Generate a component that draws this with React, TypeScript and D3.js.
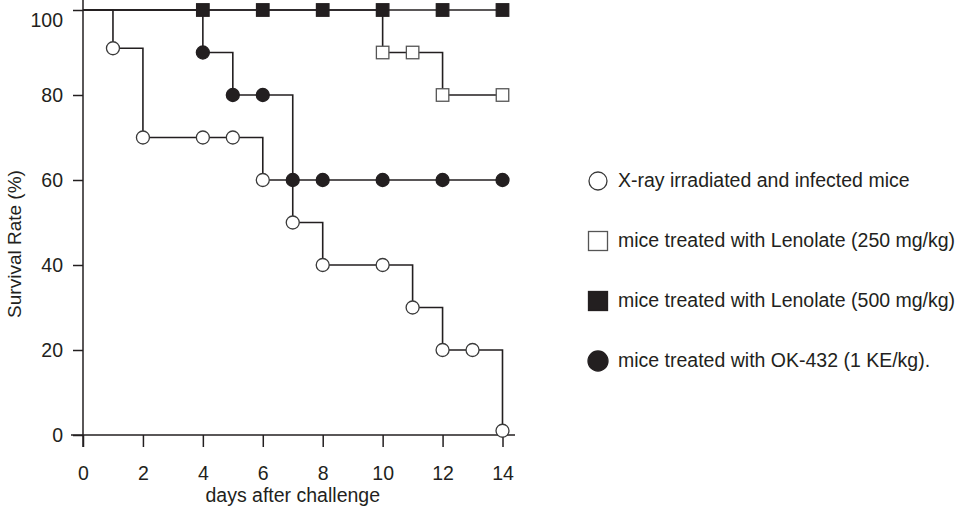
import React, { useEffect, useRef } from "react";
import * as d3 from "d3";

// survival data (day, % surviving)
const xrayDays = [0, 1, 2, 4, 5, 6, 7, 8, 10, 11, 12, 13, 14];
const xrayRates = [100, 91, 70, 70, 70, 60, 50, 40, 40, 30, 20, 20, 1];

const len250Days = [0, 10, 11, 12, 14];
const len250Rates = [100, 90, 90, 80, 80];

const len500Days = [0, 4, 6, 8, 10, 12, 14];
const len500Rates = [100, 100, 100, 100, 100, 100, 100];

const okDays = [0, 4, 5, 6, 7, 8, 10, 12, 14];
const okRates = [100, 90, 80, 80, 60, 60, 60, 60, 60];

const xTicks = [0, 2, 4, 6, 8, 10, 12, 14];
const yTicks = [0, 20, 40, 60, 80, 100];

const legendLabels = [
  "X-ray irradiated and infected mice",
  "mice treated with Lenolate (250 mg/kg)",
  "mice treated with Lenolate (500 mg/kg)",
  "mice treated with OK-432 (1 KE/kg).",
];

const INK = "#231f20";
const FONT = "'Liberation Sans', Arial, sans-serif";

const series = [
  { days: xrayDays, rates: xrayRates, shape: "circle", filled: false },
  { days: okDays, rates: okRates, shape: "circle", filled: true },
  { days: len250Days, rates: len250Rates, shape: "square", filled: false },
  { days: len500Days, rates: len500Rates, shape: "square", filled: true },
];

// legend order: open circle, open square, filled square, filled circle
const legendMarks = [
  { shape: "circle", filled: false },
  { shape: "square", filled: false },
  { shape: "square", filled: true },
  { shape: "circle", filled: true },
];

export default function App() {
  const ref = useRef<SVGSVGElement>(null);

  useEffect(() => {
    const svg = d3.select(ref.current);
    svg.selectAll("*").remove();

    const x = d3.scaleLinear().domain([0, 14]).range([83, 502.5]);
    const y = d3.scaleLinear().domain([0, 100]).range([435, 10]);

    const g = svg.append("g");

    // axis lines (they run past the ticks a little, like the original)
    g.append("line")
      .attr("x1", x(0)).attr("x2", x(0))
      .attr("y1", 0).attr("y2", y(0) + 12)
      .attr("stroke", INK).attr("stroke-width", 1.5);
    g.append("line")
      .attr("x1", x(0) - 12).attr("x2", 515)
      .attr("y1", y(0)).attr("y2", y(0))
      .attr("stroke", INK).attr("stroke-width", 1.5);

    const yAxis = g.append("g")
      .attr("transform", `translate(${x(0)},0)`)
      .call(d3.axisLeft(y).tickValues(yTicks).tickSize(10).tickPadding(10));
    yAxis.select(".domain").remove();
    yAxis.selectAll(".tick line").attr("stroke", INK).attr("stroke-width", 1.5);
    yAxis.selectAll(".tick text")
      .attr("fill", INK)
      .style("font-family", FONT)
      .style("font-size", "19.5px")
      // top label sits a bit lower in the original so it isn't cut off
      .attr("dy", (d: any) => (d === 100 ? "0.86em" : "0.34em"));

    const xAxis = g.append("g")
      .attr("transform", `translate(0,${y(0)})`)
      .call(d3.axisBottom(x).tickValues(xTicks).tickSize(12).tickPadding(19));
    xAxis.select(".domain").remove();
    xAxis.selectAll(".tick line").attr("stroke", INK).attr("stroke-width", 1.5);
    xAxis.selectAll(".tick text")
      .attr("fill", INK)
      .style("font-family", FONT)
      .style("font-size", "19.5px");

    g.append("text")
      .attr("x", (x(0) + x(14)) / 2)
      .attr("y", 502)
      .attr("text-anchor", "middle")
      .attr("fill", INK)
      .style("font-family", FONT)
      .style("font-size", "19.5px")
      .text("days after challenge");

    g.append("text")
      .attr("transform", "translate(21,244) rotate(-90)")
      .attr("text-anchor", "middle")
      .attr("fill", INK)
      .style("font-family", FONT)
      .style("font-size", "19px")
      .text("Survival Rate (%)");

    // step lines
    series.forEach((s) => {
      const pts = s.days.map((d, i) => [x(d), y(s.rates[i])] as [number, number]);
      g.append("path")
        .attr("d", d3.line().curve(d3.curveStepAfter)(pts))
        .attr("fill", "none")
        .attr("stroke", INK)
        .attr("stroke-width", 1.6);
    });

    const drawMark = (sel: any, shape: string, filled: boolean, cx: number, cy: number, size: number) => {
      if (shape === "circle") {
        sel.append("circle")
          .attr("cx", cx).attr("cy", cy).attr("r", size / 2)
          .attr("fill", filled ? INK : "#fff")
          .attr("stroke", filled ? INK : "#3a3a3a")
          .attr("stroke-width", 1.3);
      } else {
        sel.append("rect")
          .attr("x", cx - size / 2).attr("y", cy - size / 2)
          .attr("width", size).attr("height", size)
          .attr("fill", filled ? INK : "#fff")
          .attr("stroke", filled ? INK : "#555")
          .attr("stroke-width", 1.3);
      }
    };

    // markers (skip the day-0 start point)
    series.forEach((s) => {
      s.days.forEach((d, i) => {
        if (i === 0) return;
        drawMark(g, s.shape, s.filled, x(d), y(s.rates[i]), s.shape === "circle" ? 13 : 12.5);
      });
    });

    // legend
    const legend = g.append("g");
    legendLabels.forEach((label, i) => {
      const base = 187 + i * 60;
      const m = legendMarks[i];
      drawMark(legend, m.shape, m.filled, 598, base - 6, m.shape === "circle" ? (m.filled ? 20 : 18) : 19);
      legend.append("text")
        .attr("x", 618)
        .attr("y", base)
        .attr("fill", INK)
        .style("font-family", FONT)
        .style("font-size", "19.5px")
        .text(label);
    });
  }, []);

  return (
    <svg
      ref={ref}
      width={974}
      height={508}
      style={{ position: "absolute", left: 0, top: 0, background: "#fff" }}
    />
  );
}
